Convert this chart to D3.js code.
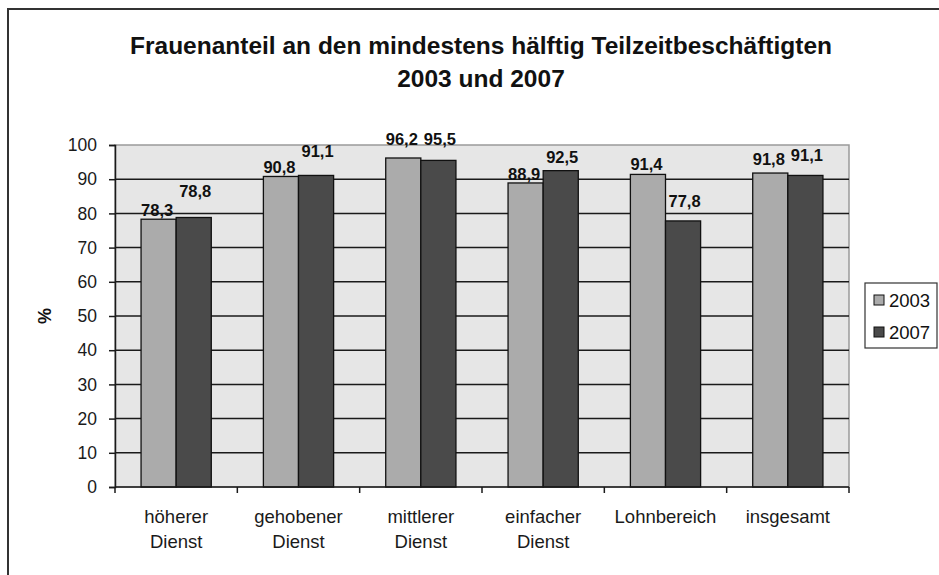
<!DOCTYPE html>
<html><head><meta charset="utf-8">
<script src="https://cdn.jsdelivr.net/npm/d3@7"></script>
<style>body{margin:0;background:#fff}svg{display:block;font-family:"Liberation Sans",Arial,sans-serif}</style>
</head><body><svg id="c" width="939" height="575"></svg>
<script>
const categories = [["höherer","Dienst"],["gehobener","Dienst"],["mittlerer","Dienst"],["einfacher","Dienst"],["Lohnbereich"],["insgesamt"]];
const seriesNames = ["2003","2007"];
const values2003 = [78.3, 90.8, 96.2, 88.9, 91.4, 91.8];
const values2007 = [78.8, 91.1, 95.5, 92.5, 77.8, 91.1];
const yTicks = [0,10,20,30,40,50,60,70,80,90,100];
const titleLines = ["Frauenanteil an den mindestens hälftig Teilzeitbeschäftigten","2003 und 2007"];
const yLabel = "%";

// style: extra label lift (px) mimicking the original label placement
const labelLift = [[0,0,10,0,1,5],[18,15,12,5,11,11]];
const colors = ["#ababab","#4a4a4a"];

const svg = d3.select("#c");
const m = {left:115, right:849, top:145, bottom:487};

svg.append("rect").attr("x",8).attr("y",9).attr("width",960).attr("height",600)
  .attr("fill","#fff").attr("stroke","#333").attr("stroke-width",2);

const x = d3.scaleBand().domain(d3.range(categories.length)).range([m.left,m.right]);
const y = d3.scaleLinear().domain([0,100]).range([m.bottom,m.top]);
const barW = x.bandwidth()*0.287;

svg.append("rect").attr("x",m.left).attr("y",m.top).attr("width",m.right-m.left).attr("height",m.bottom-m.top)
  .attr("fill","#e6e6e6").attr("stroke","#9a9a9a").attr("stroke-width",1.5);

svg.append("g").selectAll("line").data(yTicks.filter(t=>t>0&&t<100)).join("line")
  .attr("x1",m.left).attr("x2",m.right).attr("y1",d=>y(d)).attr("y2",d=>y(d))
  .attr("stroke","#1a1a1a").attr("stroke-width",1.5);

// axes
const yAxis = svg.append("g").attr("transform",`translate(${m.left},0)`)
  .call(d3.axisLeft(y).tickValues(yTicks).tickSize(6).tickPadding(12).tickFormat(d3.format("d")));
yAxis.select(".domain").attr("stroke","#1a1a1a").attr("stroke-width",1.5);
yAxis.selectAll(".tick line").attr("stroke","#1a1a1a").attr("stroke-width",1.5);
yAxis.selectAll("text").attr("font-size",17.5).attr("fill","#1a1a1a").attr("font-family","'Liberation Sans',Arial,sans-serif");

const series = [values2003, values2007];
series.forEach((vals,s)=>{
  svg.append("g").selectAll("rect").data(vals).join("rect")
    .attr("x",(d,i)=>x(i)+x.bandwidth()/2 - barW + s*barW)
    .attr("y",d=>y(d)).attr("width",barW).attr("height",d=>y(0)-y(d))
    .attr("fill",colors[s]).attr("stroke","#111").attr("stroke-width",1.3);
});

const xAxisG = svg.append("g");
xAxisG.append("line").attr("x1",m.left).attr("x2",m.right).attr("y1",m.bottom).attr("y2",m.bottom)
  .attr("stroke","#1a1a1a").attr("stroke-width",1.5);
xAxisG.selectAll(".tk").data(d3.range(categories.length+1)).join("line").attr("class","tk")
  .attr("x1",i=>m.left+i*x.step()).attr("x2",i=>m.left+i*x.step())
  .attr("y1",m.bottom).attr("y2",m.bottom+6).attr("stroke","#1a1a1a").attr("stroke-width",1.5);
categories.forEach((lines,i)=>{
  const t = svg.append("text").attr("text-anchor","middle").attr("font-size",18.5).attr("fill","#1a1a1a");
  lines.forEach((l,k)=>t.append("tspan").attr("x",x(i)+x.bandwidth()/2).attr("y",523+k*25).text(l));
});

// value labels
series.forEach((vals,s)=>{
  svg.append("g").selectAll("text").data(vals).join("text")
    .attr("x",(d,i)=>x(i)+x.bandwidth()/2 - barW/2 + s*barW + (s===0?-1.5:1.5))
    .attr("y",(d,i)=>y(d)-3-labelLift[s][i])
    .attr("text-anchor","middle").attr("font-size",16.5).attr("font-weight","bold").attr("fill","#111")
    .text(d=>d3.format(".1f")(d).replace(".",","));
});

// title
titleLines.forEach((t,k)=>svg.append("text").attr("x",481).attr("y",54+k*33)
  .attr("text-anchor","middle").attr("font-size",24.5).attr("font-weight","bold").attr("fill","#111").text(t));

// y label
svg.append("text").attr("transform","translate(51,316) rotate(-90)").attr("text-anchor","middle")
  .attr("font-size",18).attr("font-weight","bold").attr("fill","#111").text(yLabel);

// legend
const lg = svg.append("g");
lg.append("rect").attr("x",865).attr("y",283).attr("width",72).attr("height",65)
  .attr("fill","#fff").attr("stroke","#333").attr("stroke-width",1.2);
seriesNames.forEach((n,k)=>{
  const cy = 300 + k*32;
  lg.append("rect").attr("x",874).attr("y",cy-5).attr("width",10).attr("height",10)
    .attr("fill",colors[k]).attr("stroke","#111").attr("stroke-width",1);
  lg.append("text").attr("x",889).attr("y",cy+7).attr("font-size",18.5).attr("fill","#111").text(n);
});
</script></body></html>
